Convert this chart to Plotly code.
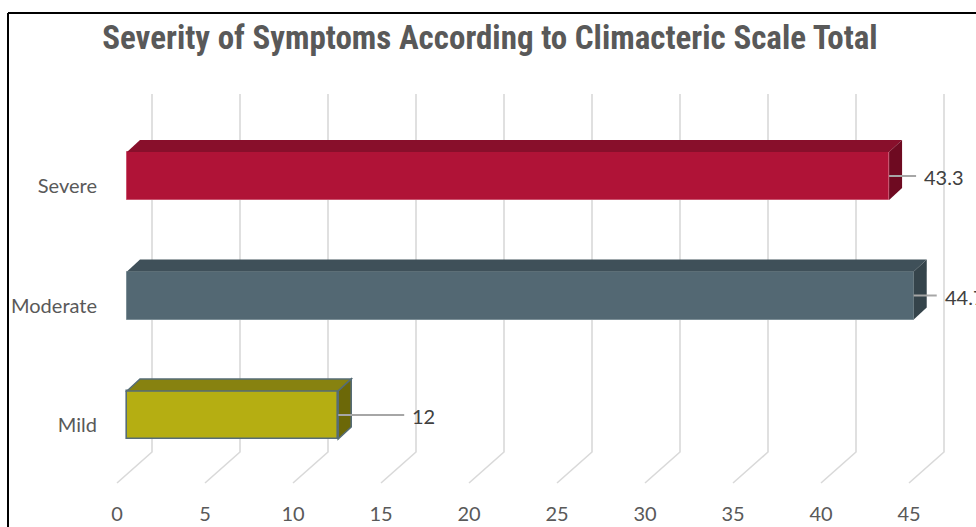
import plotly.graph_objects as go

# ---- data ----
categories = ["Severe", "Moderate", "Mild"]
values = [43.3, 44.7, 12]
value_labels = ["43.3", "44.7", "12"]
x_ticks = [0, 5, 10, 15, 20, 25, 30, 35, 40, 45]
title_text = "Severity of Symptoms According to Climacteric Scale Total"

# ---- style ----
front_colors = ["#B01337", "#536873", "#B5AE12"]
top_colors = ["#880F2B", "#3F5059", "#878210"]
side_colors = ["#6E0A21", "#35444B", "#6C6808"]
edge_colors = ["#C9546F", "#7C8E96", "#566C76"]
edge_widths = [1, 1, 1.6]
leader_px = [27, 23, 66]

W, H = 976, 527
ML, MR, MT, MB = 105, 0, 13, 37
PXU = 17.6      # px per value unit
PYU = 119.5     # px per category step
X0PX = 127      # pixel of value 0 on bar front face
Y0PX = 415      # pixel of bottom category centre

plot_w = W - ML - MR
plot_h = H - MT - MB
xmin = (ML - X0PX) / PXU
xmax = (W - MR - X0PX) / PXU
ymax = (Y0PX - MT) / PYU
ymin = (Y0PX - (H - MB)) / PYU


def dx(px):
    return px / PXU


def dy(px):
    return px / PYU


def ypx(p):
    return (Y0PX - p) / PYU


n = len(categories)
pos = [n - 1 - i for i in range(n)]
half = dy(24)
depth_x, depth_y = dx(13), dy(12)

fig = go.Figure()

# front faces
fig.add_trace(go.Bar(
    orientation="h", x=values, y=pos, width=2 * half, base=0,
    marker=dict(color=front_colors, line=dict(color=edge_colors, width=edge_widths)),
    hoverinfo="skip", showlegend=False,
))

shapes = []
# back-wall + floor gridlines
wall_off, floor_off = dx(25), dx(-10)
for v in x_ticks:
    path = (f"M {v + wall_off},{ypx(94)} L {v + wall_off},{ypx(452)} "
            f"L {v + floor_off},{ypx(483)}")
    shapes.append(dict(type="path", xref="x", yref="y", path=path, layer="below",
                       line=dict(color="#D9D9D9", width=1.6)))

# 3D faces of bars
for i in range(n):
    v, p = values[i], pos[i]
    top = p + half
    bot = p - half
    lw = 1.6 if i == 2 else 0
    lc = edge_colors[i] if i == 2 else "rgba(0,0,0,0)"
    top_path = (f"M 0,{top} L {depth_x},{top + depth_y} L {v + depth_x},{top + depth_y} "
                f"L {v},{top} Z")
    side_path = (f"M {v},{top} L {v + depth_x},{top + depth_y} L {v + depth_x},{bot + depth_y} "
                 f"L {v},{bot} Z")
    shapes.append(dict(type="path", xref="x", yref="y", path=top_path, layer="above",
                       fillcolor=top_colors[i], line=dict(color=lc, width=lw)))
    shapes.append(dict(type="path", xref="x", yref="y", path=side_path, layer="above",
                       fillcolor=side_colors[i], line=dict(color=lc, width=lw)))
    # leader line
    shapes.append(dict(type="line", xref="x", yref="y", x0=v, x1=v + dx(leader_px[i]),
                       y0=p, y1=p, layer="above", line=dict(color="#A6A6A6", width=2)))

# chart border (top and left)
bx = (8 - ML) / plot_w
by_bot = -(MB + 2) / plot_h
shapes.append(dict(type="line", xref="paper", yref="paper", x0=bx, x1=1.01, y0=1, y1=1,
                   line=dict(color="#000000", width=2)))
shapes.append(dict(type="line", xref="paper", yref="paper", x0=bx, x1=bx, y0=1, y1=by_bot,
                   line=dict(color="#000000", width=2)))

annotations = []
for i in range(n):
    annotations.append(dict(
        x=values[i] + dx(leader_px[i] + 6), y=pos[i], xref="x", yref="y",
        text=value_labels[i], showarrow=False, xanchor="left", yanchor="middle",
        yshift=-1, font=dict(family="Lato, Carlito, sans-serif", size=20, color="#404040"),
    ))

fig.update_layout(
    width=W, height=H,
    margin=dict(l=ML, r=MR, t=MT, b=MB),
    paper_bgcolor="white", plot_bgcolor="white",
    title=dict(text=f"<b>{title_text}</b>", x=0.502, xref="container", xanchor="center",
               y=1 - 37 / H, yref="container", yanchor="middle",
               font=dict(family="Liberation Sans Narrow, Arial Narrow, Roboto Condensed, Roboto, sans-serif",
                         size=33, color="#595959")),
    xaxis=dict(range=[xmin, xmax], showgrid=False, zeroline=False, showline=False,
               tickvals=[v + floor_off for v in x_ticks], ticktext=[str(v) for v in x_ticks],
               ticks="outside", ticklen=6, tickcolor="rgba(0,0,0,0)",
               tickfont=dict(family="Lato, Carlito, sans-serif", size=20, color="#595959")),
    yaxis=dict(range=[ymin, ymax], showgrid=False, zeroline=False, showline=False,
               tickvals=[p - dy(10) for p in pos], ticktext=categories,
               ticks="outside", ticklen=3, tickcolor="rgba(0,0,0,0)",
               tickfont=dict(family="Lato, Carlito, sans-serif", size=20, color="#595959")),
    shapes=shapes, annotations=annotations,
    bargap=0,
)

fig.write_html("out.html")
